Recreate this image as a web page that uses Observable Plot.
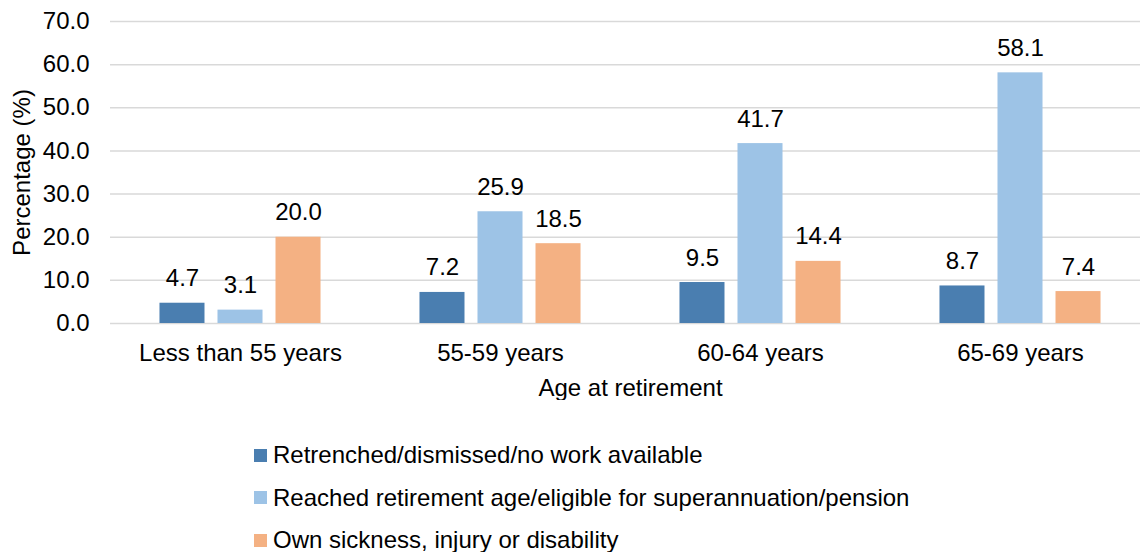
<!DOCTYPE html>
<html>
<head>
<meta charset="utf-8">
<script src="https://cdn.jsdelivr.net/npm/d3@7"></script>
<script src="https://cdn.jsdelivr.net/npm/@observablehq/plot@0.6"></script>
<style>
  html, body { margin: 0; padding: 0; background: #fff; overflow: hidden; }
  #wrap { position: relative; width: 1140px; height: 552px; overflow: hidden; font-family: "Liberation Sans", Arial, sans-serif; }
  #chart { width: 1150px; }
  #chart svg { max-width: none !important; }
  #legend { position: absolute; left: 254px; top: 434px; font-size: 24px; color: #000; }
  .item { display: flex; align-items: center; height: 42.5px; white-space: nowrap; }
  .sw { width: 13px; height: 13px; margin-right: 6px; flex: none; }
</style>
</head>
<body>
<div id="wrap"><div id="chart"></div><div id="legend"></div></div>
<script>
const categories = ["Less than 55 years", "55-59 years", "60-64 years", "65-69 years"];
const series = [
  "Retrenched/dismissed/no work available",
  "Reached retirement age/eligible for superannuation/pension",
  "Own sickness, injury or disability"
];
const retrenched = [4.7, 7.2, 9.5, 8.7];
const reachedAge = [3.1, 25.9, 41.7, 58.1];
const sickness = [20.0, 18.5, 14.4, 7.4];
const yTicks = [0, 10, 20, 30, 40, 50, 60, 70];
const colors = ["#4a7eb0", "#9dc3e6", "#f4b183"];

const seriesValues = [retrenched, reachedAge, sickness];
const data = categories.flatMap((age, i) =>
  series.map((s, j) => ({ age, series: s, value: seriesValues[j][i] }))
);

const chart = Plot.plot({
  width: 1150,
  height: 400,
  marginLeft: 110,
  marginRight: 0,
  marginTop: 21,
  marginBottom: 77,
  style: { fontFamily: "'Liberation Sans', Arial, sans-serif", fontSize: "24px", color: "#000", background: "#fff", maxWidth: "none" },
  fx: { domain: categories, padding: 0, round: false, label: "Age at retirement", axis: "bottom", tickSize: 0, tickPadding: 20, labelAnchor: "center", labelOffset: 72 },
  x: { domain: series, axis: null, round: false, paddingInner: 0.224, paddingOuter: 0.853 },
  y: { domain: [0, 70], ticks: yTicks, tickFormat: d => d.toFixed(1), tickSize: 0, tickPadding: 21, label: "Percentage (%)", labelArrow: "none", labelAnchor: "center", labelOffset: 98 },
  color: { domain: series, range: colors },
  marks: [
    Plot.ruleY(yTicks, { stroke: "#d9d9d9", strokeWidth: 1.5 }),
    Plot.barY(data, { fx: "age", x: "series", y: "value", fill: "series" }),
    Plot.text(data, { fx: "age", x: "series", y: "value", text: d => d.value.toFixed(1), lineAnchor: "bottom", dy: -17, fill: "#000", fontSize: 24 })
  ]
});
document.getElementById("chart").appendChild(chart);

const legend = document.getElementById("legend");
series.forEach((s, i) => {
  const row = document.createElement("div");
  row.className = "item";
  const sw = document.createElement("span");
  sw.className = "sw";
  sw.style.background = colors[i];
  const t = document.createElement("span");
  t.textContent = s;
  row.appendChild(sw);
  row.appendChild(t);
  legend.appendChild(row);
});
</script>
</body>
</html>
